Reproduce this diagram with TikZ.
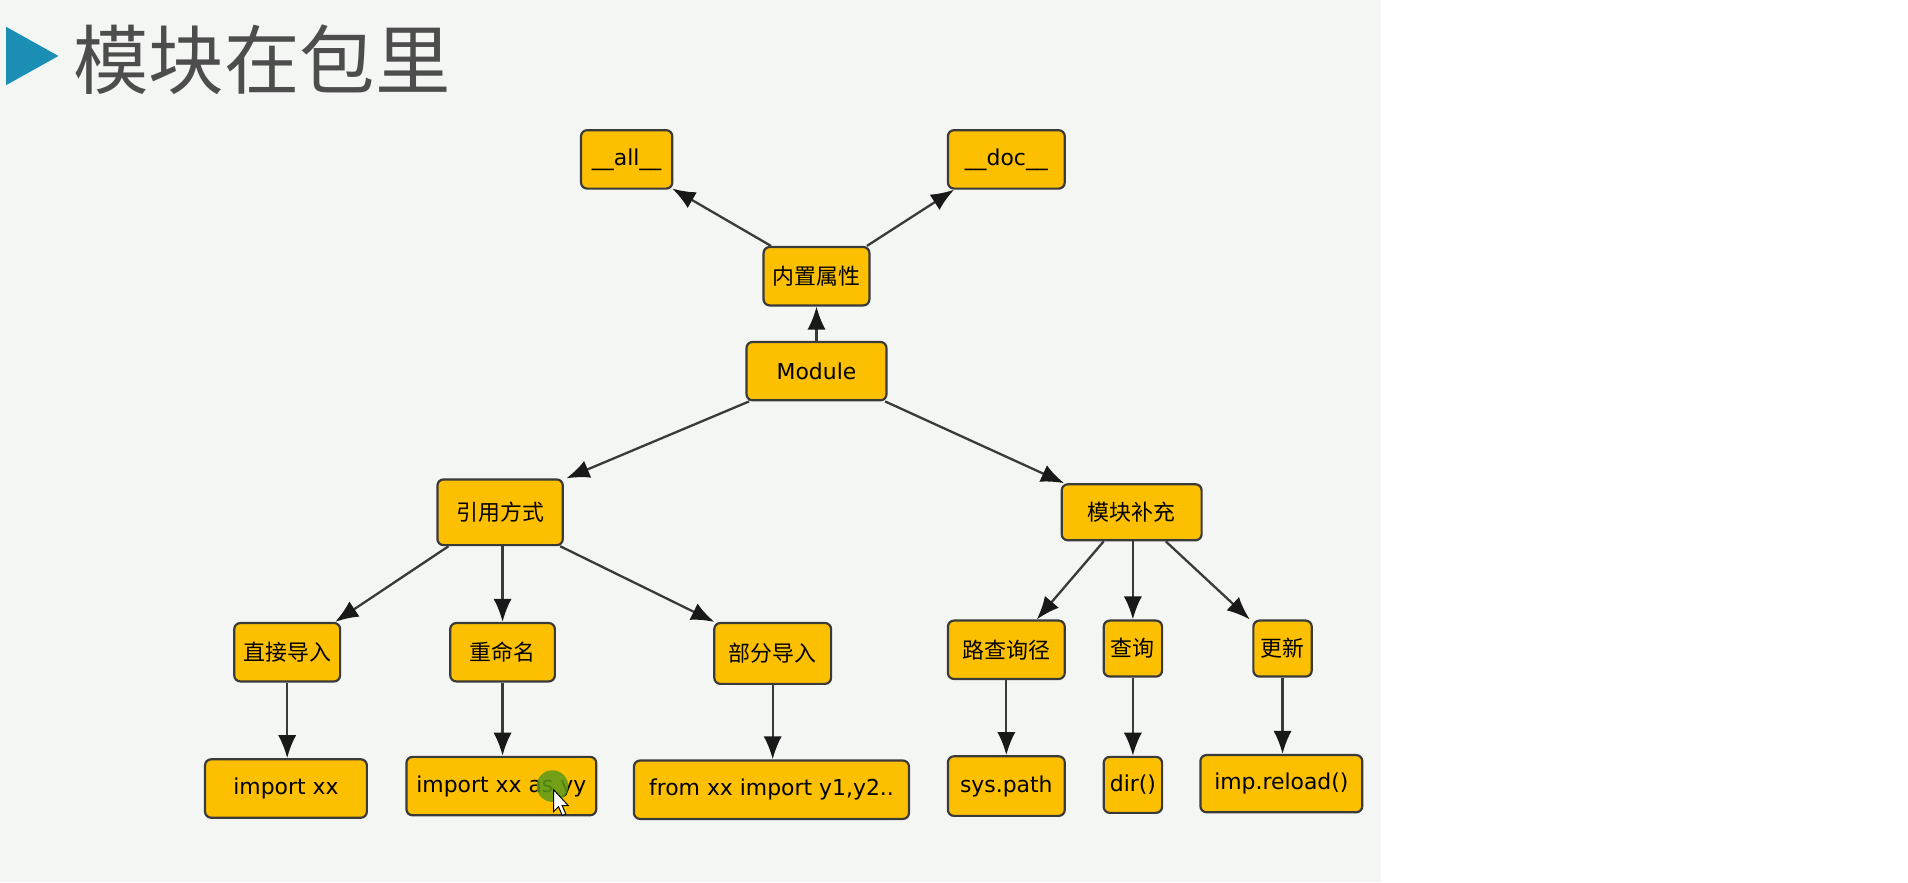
\documentclass[tikz,border=0pt]{standalone}
\usepackage{fontspec}
\setmainfont{DejaVu Sans}
\newfontfamily\cjk{Noto Sans CJK SC}
\usetikzlibrary{arrows.meta}
\definecolor{bgc}{HTML}{F4F6F4}
\definecolor{boxc}{HTML}{FDC000}
\definecolor{edgec}{HTML}{3A3A3A}
\definecolor{titc}{HTML}{4D4D4D}
\definecolor{tric}{HTML}{1B8FB3}
\definecolor{dotc}{HTML}{5A9A1A}
\tikzset{
  bx/.style={rectangle, rounded corners=5pt, fill=boxc, draw=edgec, line width=1.8pt,
    inner sep=0pt, font=\fontsize{18}{20}\selectfont, text=black},
  wh/.style 2 args={minimum width=#1pt, minimum height=#2pt},
  cn/.style={font=\cjk\fontsize{18}{20}\selectfont},
  arr/.style={draw=edgec, line width=1.9pt, -{Latex[length=19pt,width=15pt,color=black!90]}}
}
\begin{document}
\begin{tikzpicture}[x=1pt,y=-1pt]
\useasboundingbox (0,0) rectangle (1568,725);
\fill[white] (0,0) rectangle (1568,725);
\fill[bgc] (0,0) rectangle (1135,725);
% title
\fill[tric] (5,22) -- (48,46) -- (5,70) -- cycle;
\node[anchor=west, inner sep=0pt, text=titc, font=\cjk\fontsize{62}{64}\selectfont] (title) at (60,49) {模块在包里};
% nodes
\node[bx, wh={75}{48}] (all) at (515,131) {\_\_all\_\_};
\node[bx, wh={96}{48}] (doc) at (827,131) {\_\_doc\_\_};
\node[bx, cn, wh={87}{48}] (inn) at (671,227) {内置属性};
\node[bx, wh={115}{48}] (mod) at (671,305) {Module};
\node[bx, cn, wh={103}{54}] (yin) at (411,421) {引用方式};
\node[bx, cn, wh={115}{46}] (mk) at (930,421) {模块补充};
\node[bx, cn, wh={87}{48}] (zj) at (236,536) {直接导入};
\node[bx, cn, wh={86}{48}] (cm) at (413,536) {重命名};
\node[bx, cn, wh={96}{50}] (bf) at (635,537) {部分导入};
\node[bx, cn, wh={96}{48}] (lj) at (827,534) {路查询径};
\node[bx, cn, wh={48}{46}] (cx) at (931,533) {查询};
\node[bx, cn, wh={48}{46}] (gx) at (1054,533) {更新};
\node[bx, wh={133}{48}] (ix) at (235,648) {import xx};
\node[bx, wh={156}{48}] (ia) at (412,646) {import xx as yy};
\node[bx, wh={226}{48}] (fx) at (634,649) {from xx import y1,y2..};
\node[bx, wh={96}{49}] (sp) at (827,646) {sys.path};
\node[bx, wh={48}{46}] (dr) at (931,645) {dir()};
\node[bx, wh={133}{47}] (ir) at (1053,644) {imp.reload()};
% edges
\draw[arr] ([xshift=7pt]inn.north west) -- ([xshift=-1pt,yshift=1pt]all.south east);
\draw[arr] ([xshift=-3pt]inn.north east) -- ([xshift=6pt]doc.south west);
\draw[arr] (mod.north) -- (inn.south);
\draw[arr] ([xshift=3pt]mod.south west) -- ([xshift=2pt]yin.north east);
\draw[arr] ([xshift=-2pt]mod.south east) -- ([xshift=3pt]mk.north west);
\draw[arr] ([xshift=10pt]yin.south west) -- ([xshift=-5pt]zj.north east);
\draw[arr] (cm.north |- yin.south) -- (cm.north);
\draw[arr] ([xshift=-3pt]yin.south east) -- ([xshift=1pt]bf.north west);
\draw[arr] ([xshift=-23pt]mk.south) -- ([xshift=25pt]lj.north);
\draw[arr] (cx.north |- mk.south) -- (cx.north);
\draw[arr] ([xshift=28pt]mk.south) -- ([xshift=-2pt]gx.north west);
\draw[arr] (zj.south) -- (zj.south |- ix.north);
\draw[arr] (cm.south) -- (cm.south |- ia.north);
\draw[arr] (bf.south) -- (bf.south |- fx.north);
\draw[arr] (lj.south) -- (lj.south |- sp.north);
\draw[arr] (cx.south) -- (cx.south |- dr.north);
\draw[arr] (gx.south) -- (gx.south |- ir.north);
% cursor highlight
\fill[dotc, opacity=0.85] (454,646) circle (13);
\filldraw[fill=white, draw=black, line width=0.8pt] (455,649) -- (455,667) -- (459,663) -- (462,670) -- (465,669) -- (462,662) -- (467,662) -- cycle;
\end{tikzpicture}
\end{document}
